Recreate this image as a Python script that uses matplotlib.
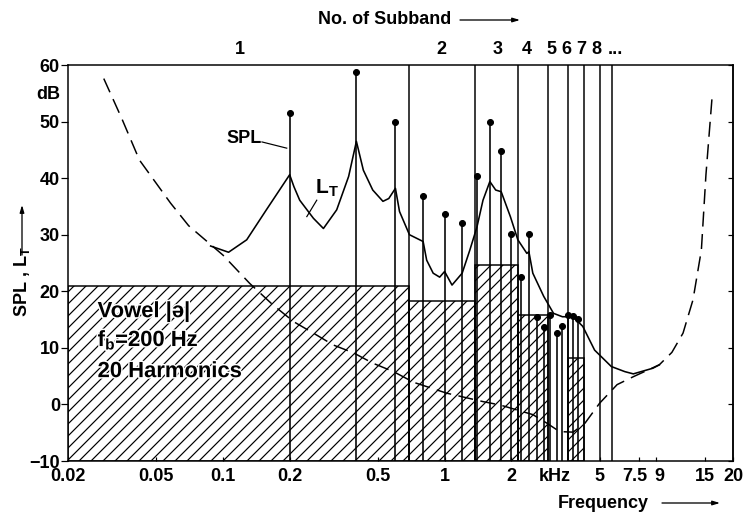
# subband coding of a vowel: harmonic SPL, masking threshold L_T and subband levels
import numpy as np
import matplotlib.pyplot as plt
import matplotlib.patheffects as pe

plt.rcParams['font.family'] = ['Liberation Sans', 'DejaVu Sans']
plt.rcParams['font.weight'] = 'bold'
plt.rcParams['hatch.linewidth'] = 1.2

# threshold in quiet (dashed), kHz / dB
tq_freq = [0.029, 0.035, 0.042, 0.058, 0.07, 0.1, 0.132, 0.168, 0.209, 0.256, 0.315,
           0.389, 0.474, 0.588, 0.726, 1.02, 1.49, 1.78, 2.5, 2.89, 3.3, 3.8, 4.3,
           5.0, 6.0, 7.1, 9.3, 10.6, 11.9, 13.2, 14.4, 15.1, 16.1]
tq_level = [57.6, 50.5, 43.2, 35.6, 31.6, 26.4, 21.4, 17.6, 14.6, 12.6, 10.5,
            9.1, 7.3, 5.8, 3.9, 2.0, 0.5, -0.1, -1.8, -3.3, -4.8, -4.9, -3.3,
            0.2, 3.5, 4.9, 7.0, 9.2, 12.6, 18.5, 27.3, 40.6, 54.4]

# masking threshold L_T (solid), kHz / dB
lt_freq = [0.088, 0.106, 0.128, 0.157, 0.2, 0.209, 0.222, 0.256, 0.284, 0.326, 0.369,
           0.4, 0.43, 0.474, 0.527, 0.56, 0.6, 0.626, 0.694, 0.772, 0.8, 0.83, 0.888,
           0.95, 1.0, 1.08, 1.2, 1.3, 1.4, 1.49, 1.6, 1.7, 1.8, 1.98, 2.14, 2.35,
           2.4, 2.5, 2.8, 3.1, 3.4, 3.8, 4.2, 4.75, 5.65, 6.5, 7.1, 8.7, 9.3]
lt_level = [28.0, 26.9, 29.1, 34.4, 40.6, 38.5, 36.1, 32.9, 31.1, 34.4, 40.3,
            46.5, 41.4, 37.9, 35.9, 36.4, 38.2, 34.1, 30.0, 29.1, 28.8, 25.5, 23.2,
            22.5, 23.5, 21.1, 23.2, 27.3, 31.4, 36.1, 39.4, 37.9, 37.6, 33.2, 29.1, 26.7,
            27.0, 23.2, 19.1, 16.1, 15.5, 15.5, 13.8, 9.6, 6.7, 5.8, 5.4, 6.4, 7.0]

# harmonics of the vowel (f_b = 200 Hz)
harm_freq = [0.2, 0.4, 0.6, 0.8, 1.0, 1.2, 1.4, 1.6, 1.8, 2.0,
             2.2, 2.4, 2.6, 2.8, 3.0, 3.2, 3.4, 3.6, 3.8, 4.0]
harm_spl = [51.5, 58.7, 49.9, 36.9, 33.7, 32.0, 40.4, 49.9, 44.8, 30.1,
            22.6, 30.1, 15.4, 13.7, 15.8, 12.7, 13.8, 15.8, 15.7, 15.1]

# subbands: edges (kHz) and level of each subband (nan = no bar)
band_edges = [0.02, 0.694, 1.378, 2.148, 2.93, 3.6, 4.27, 5.02, 5.69]
band_level = [21.0, 18.2, 24.6, 15.8, np.nan, 8.2, np.nan, np.nan]
band_names = ['1', '2', '3', '4', '5', '6', '7', '8', '...']
band_name_x = [0.119, 0.968, 1.74, 2.35, 3.02, 3.53, 4.13, 4.84, 5.9]

x_ticks = [0.02, 0.05, 0.1, 0.2, 0.5, 1, 2, 3.15, 5, 7.5, 9, 15, 20]
x_labels = ['0.02', '0.05', '0.1', '0.2', '0.5', '1', '2', 'kHz', '5', '', '', '15', '20']
# 7.5 and 9 sit close together, written slightly apart
near_ticks = [7.5, 9]
near_labels = ['7.5', '9']
y_ticks = [-10, 0, 10, 20, 30, 40, 50, 60]

W, H = 749, 525
fig = plt.figure(figsize=(W / 72, H / 72), dpi=72)
ax = fig.add_axes([68 / W, 64 / H, 665 / W, 396 / H])
ax.set_xscale('log')
ax.set_xlim(0.02, 20)
ax.set_ylim(-10, 60)

# hatched subband bars
left = np.array(band_edges[:-1])
right = np.array(band_edges[1:])
lev = np.array(band_level)
ok = ~np.isnan(lev)
ax.bar(left[ok], lev[ok] + 10, width=(right - left)[ok], bottom=-10, align='edge',
       fill=False, hatch='//', edgecolor='black', linewidth=1.5, zorder=1)

# subband boundaries
ax.vlines(band_edges[1:], -10, 60, color='black', linewidth=1.5, zorder=2)

# threshold in quiet
ax.plot(tq_freq, tq_level, color='black', linewidth=1.5, dashes=(10, 5), zorder=3)

# masking threshold
ax.plot(lt_freq, lt_level, color='black', linewidth=1.6, zorder=3)

# harmonic lines with dots
ax.vlines(harm_freq, -10, harm_spl, color='black', linewidth=1.6, zorder=4)
ax.plot(harm_freq, harm_spl, 'o', color='black', markersize=6, zorder=5)

# ticks; the 'kHz' slot has no tick mark
ax.set_xticks(x_ticks)
ax.set_xticklabels(x_labels)
ax.minorticks_off()
ax.xaxis.get_major_ticks()[7].tick1line.set_visible(False)
ax.tick_params(axis='x', direction='in', length=4, width=1.2, pad=7, labelsize=18)
for xt, lab, dx in zip(near_ticks, near_labels, [-4, 3]):
    ax.annotate(lab, xy=(xt, 0), xycoords=ax.get_xaxis_transform(),
                xytext=(dx, -7), textcoords='offset points', ha='center', va='top',
                fontsize=18)
ax.set_yticks(y_ticks)
ax.tick_params(axis='y', direction='out', length=7, width=1.2, pad=1, labelsize=18)
sec = ax.secondary_yaxis('right')
sec.set_yticks(y_ticks)
sec.tick_params(direction='in', length=5, width=1.2, labelright=False)
sec.spines['right'].set_linewidth(1.5)
for s in ax.spines.values():
    s.set_linewidth(1.5)

ax.text(-0.012, 54.7, 'dB', transform=ax.get_yaxis_transform(), ha='right',
        va='center', fontsize=18)

# subband numbers on top
for name, xn in zip(band_names, band_name_x):
    ax.annotate(name, xy=(xn, 60), xytext=(0, 16), textcoords='offset points',
                ha='center', va='center', fontsize=18)

# annotations in the plot
ax.text(0.124, 47.0, 'SPL', ha='center', va='center', fontsize=18)
ax.plot([0.150, 0.194], [46.4, 45.3], color='black', linewidth=1.2)
ax.text(0.294, 38.2, 'L$\\mathregular{_T}$', ha='center', va='center', fontsize=21)
ax.plot([0.265, 0.239], [36.1, 33.2], color='black', linewidth=1.2)

halo = [pe.withStroke(linewidth=3, foreground='white')]
for txt, yv in [('Vowel |ə|', 16.4), ('f$\\mathregular{_b}$=200 Hz', 11.4), ('20 Harmonics', 5.8)]:
    ax.text(0.0272, yv, txt, ha='left', va='center', fontsize=22, path_effects=halo, zorder=6)

# axis titles with arrows (figure pixels)
arrow = dict(arrowstyle='-|>,head_length=0.6,head_width=0.18', color='black', lw=1.3)
fig.text(318 / W, 1 - 20 / H, 'No. of Subband', ha='left', va='center', fontsize=18)
ax.annotate('', xy=(522, H - 20), xytext=(458, H - 20), xycoords='figure pixels',
            textcoords='figure pixels', arrowprops=arrow)
fig.text(558 / W, 1 - 503 / H, 'Frequency', ha='left', va='center', fontsize=18)
ax.annotate('', xy=(722, H - 503), xytext=(660, H - 503), xycoords='figure pixels',
            textcoords='figure pixels', arrowprops=arrow)
fig.text(22 / W, 1 - 317 / H, 'SPL , L$\\mathregular{_T}$', ha='center', va='bottom',
         rotation=90, fontsize=18)
ax.annotate('', xy=(22, H - 203), xytext=(22, H - 257), xycoords='figure pixels',
            textcoords='figure pixels', arrowprops=arrow)

fig.savefig('out.png', dpi=72)
